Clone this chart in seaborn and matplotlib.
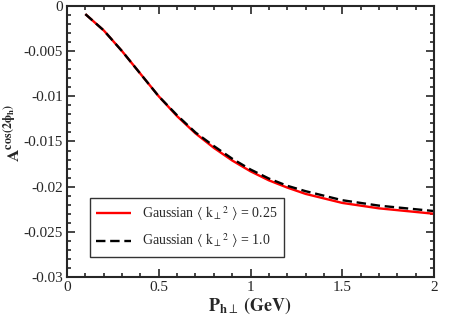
import numpy as np
import pandas as pd
import matplotlib
matplotlib.use('Agg')
import matplotlib.pyplot as plt
import seaborn as sns
from matplotlib.ticker import MultipleLocator

# Dados
p_ht = [0.1, 0.2, 0.3, 0.4, 0.5, 0.6, 0.7, 0.8, 0.9, 1.0,
        1.1, 1.2, 1.3, 1.4, 1.5, 1.6, 1.7, 1.8, 1.9, 2.0]
a_025 = [-0.0009, -0.0027, -0.0050, -0.0075, -0.0100, -0.0122, -0.0141, -0.0157,
         -0.0171, -0.0183, -0.0193, -0.0201, -0.0208, -0.0213, -0.0218, -0.0221,
         -0.0224, -0.0226, -0.0228, -0.0230]
a_10 = [-0.0009, -0.0027, -0.0050, -0.0075, -0.0100, -0.0121, -0.0140, -0.0155,
        -0.0169, -0.0181, -0.0191, -0.0199, -0.0205, -0.0210, -0.0215, -0.0218,
        -0.0221, -0.0223, -0.0225, -0.0227]
labels = [r'Gaussian $\langle\ \mathrm{k}_{\perp}{}^{2}\ \rangle$ = 0.25',
          r'Gaussian $\langle\ \mathrm{k}_{\perp}{}^{2}\ \rangle$ = 1.0']

sns.set_style('ticks')
plt.rcParams['font.family'] = ['Liberation Serif', 'DejaVu Serif']
plt.rcParams['mathtext.fontset'] = 'stix'
plt.rcParams['axes.linewidth'] = 1.5

df = pd.DataFrame({'x': p_ht * 2, 'y': a_025 + a_10,
                   'curva': [labels[0]] * len(p_ht) + [labels[1]] * len(p_ht)})

fig = plt.figure(figsize=(4.63, 3.27), dpi=100)
ax = fig.add_axes([0.1447, 0.1529, 0.7927, 0.8288])
sns.lineplot(data=df, x='x', y='y', hue='curva', style='curva',
             palette=['red', 'black'], dashes=[(1, 0), (4, 2)],
             linewidth=1.7, ax=ax)

ax.set_xlim(0, 2)
ax.set_ylim(-0.03, 0)
ax.xaxis.set_minor_locator(MultipleLocator(0.1))
ax.yaxis.set_minor_locator(MultipleLocator(0.001))
ax.set_xticks([0, 0.5, 1, 1.5, 2])
ax.set_xticklabels(['0', '0.5', '1', '1.5', '2'])
ax.set_yticks([0, -0.005, -0.01, -0.015, -0.02, -0.025, -0.03])
ax.set_yticklabels(['0', '-0.005', '-0.01', '-0.015', '-0.02', '-0.025', '-0.03'])
ax.tick_params(which='both', direction='in', top=True, right=True, labelsize=11, width=1.2)
ax.tick_params(which='major', length=6, pad=3)
ax.tick_params(which='minor', length=3)

ax.set_xlabel(r'$\mathbf{P}_{\mathbf{h}\perp}$ $\mathbf{(GeV)}$', fontsize=13, labelpad=1)
ax.set_ylabel(r'$\mathbf{A}^{\mathbf{cos(2\phi_h)}}$', fontsize=12.5)
ax.yaxis.set_label_coords(-0.118, 0.53)

leg = ax.legend(loc='lower left', bbox_to_anchor=(0.062, 0.075), fontsize=10,
                frameon=True, fancybox=False, edgecolor='black',
                borderpad=0.45, handlelength=2.5, labelspacing=0.65,
                borderaxespad=0)
leg.get_frame().set_linewidth(1.0)

fig.savefig('out.png', dpi=100)
